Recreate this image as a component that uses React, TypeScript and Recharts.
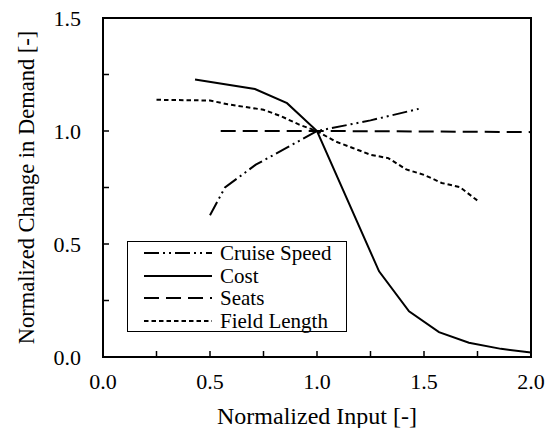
import React from 'react';
import { LineChart, Line, XAxis, YAxis, Legend, ReferenceArea } from 'recharts';

const cruiseX = [0.5, 0.57, 0.714, 0.857, 1.0, 1.25, 1.475];
const cruiseY = [0.627, 0.75, 0.851, 0.925, 1.0, 1.047, 1.098];

const costX = [0.43, 0.71, 0.86, 1.0, 1.29, 1.43, 1.57, 1.71, 1.86, 2.0];
const costY = [1.228, 1.186, 1.123, 1.0, 0.379, 0.202, 0.11, 0.063, 0.036, 0.02];

const seatsX = [0.55, 1.0, 1.5, 2.0];
const seatsY = [1.0, 1.0, 0.998, 0.995];

const fieldX = [0.25, 0.5, 0.583, 0.75, 0.833, 0.917, 1.0, 1.083, 1.167, 1.25, 1.333, 1.417, 1.5, 1.583, 1.667, 1.75];
const fieldY = [1.138, 1.135, 1.118, 1.094, 1.065, 1.028, 1.0, 0.955, 0.925, 0.895, 0.88, 0.83, 0.806, 0.77, 0.752, 0.692];

const xTicks = [0, 0.25, 0.5, 0.75, 1.0, 1.25, 1.5, 1.75, 2.0];
const yTicks = [0, 0.25, 0.5, 0.75, 1.0, 1.25, 1.5];

const seriesNames = ['Cruise Speed', 'Cost', 'Seats', 'Field Length'];

const toPts = (xs: number[], ys: number[]) => xs.map((x, i) => ({ x, y: ys[i] }));

const FONT = 'Liberation Serif';

const dashes: Record<string, string | undefined> = {
  'Cruise Speed': '15 4 2 4 2 4',
  Cost: undefined,
  Seats: '15 7',
  'Field Length': '4.5 3',
};

const isMajor = (v: number) => Math.abs(v * 2 - Math.round(v * 2)) < 1e-6;

const XTick = (props: any) => {
  const { x, y, payload } = props;
  if (!isMajor(payload.value)) return <g />;
  return (
    <text x={x} y={y} textAnchor="middle" dominantBaseline="central" style={{ fontFamily: FONT, fontSize: 22 }} fill="#000">
      {payload.value.toFixed(1)}
    </text>
  );
};

const YTick = (props: any) => {
  const { x, y, payload } = props;
  if (!isMajor(payload.value)) return <g />;
  return (
    <text x={x} y={y} textAnchor="end" dominantBaseline="central" style={{ fontFamily: FONT, fontSize: 22 }} fill="#000">
      {payload.value.toFixed(1)}
    </text>
  );
};

const LegendBox = () => (
  <div
    style={{
      width: 220,
      height: 91,
      boxSizing: 'border-box',
      border: '1.5px solid #000',
      background: '#fff',
      fontFamily: FONT,
      fontSize: 21,
      color: '#000',
    }}
  >
    {seriesNames.map((n) => (
      <div key={n} style={{ height: 22.5, display: 'flex', alignItems: 'center', lineHeight: '22px' }}>
        <svg width={84} height={22} style={{ flex: 'none' }}>
          <line x1={16} x2={85} y1={11} y2={11} stroke="#000" strokeWidth={2} strokeDasharray={dashes[n]} />
        </svg>
        <span style={{ marginLeft: 8, whiteSpace: 'nowrap', fontFamily: FONT }}>{n}</span>
      </div>
    ))}
  </div>
);

export default function App() {
  return (
    <div style={{ margin: -8, width: 555, height: 436, background: '#fff', fontFamily: FONT }}>
      <LineChart width={555} height={436} margin={{ top: 18, right: 24, bottom: 6, left: 18 }} style={{ fontFamily: FONT }}>
        <XAxis
          type="number"
          dataKey="x"
          domain={[0, 2]}
          ticks={xTicks}
          allowDataOverflow
          height={73}
          axisLine={{ stroke: '#000', strokeWidth: 2 }}
          tickLine={{ stroke: '#000', strokeWidth: 1.5 }}
          tickSize={-6}
          tickMargin={30}
          tick={<XTick />}
          interval={0}
          label={{
            value: 'Normalized Input [-]',
            position: 'insideBottom',
            offset: 6,
            style: { fontFamily: FONT, fontSize: 24, fill: '#000' },
          }}
        />
        <YAxis
          type="number"
          dataKey="y"
          domain={[0, 1.5]}
          ticks={yTicks}
          allowDataOverflow
          width={85}
          axisLine={{ stroke: '#000', strokeWidth: 2 }}
          tickLine={{ stroke: '#000', strokeWidth: 1.5 }}
          tickSize={-6}
          tickMargin={28}
          tick={<YTick />}
          interval={0}
          label={{
            value: 'Normalized Change in Demand [-]',
            angle: -90,
            position: 'insideLeft',
            offset: 8,
            style: { fontFamily: FONT, fontSize: 22.5, fill: '#000', textAnchor: 'middle' },
          }}
        />
        <ReferenceArea x1={0} x2={2} y1={0} y2={1.5} fill="none" stroke="#000" strokeWidth={2} ifOverflow="visible" />
        <Legend
          layout="vertical"
          align="center"
          verticalAlign="middle"
          content={<LegendBox />}
          wrapperStyle={{ position: 'absolute', left: 127, top: 241, width: 220, height: 91 }}
        />
        <Line data={toPts(cruiseX, cruiseY)} dataKey="y" name="Cruise Speed" stroke="#000" strokeWidth={2} strokeDasharray={dashes['Cruise Speed']} dot={false} isAnimationActive={false} type="linear" />
        <Line data={toPts(costX, costY)} dataKey="y" name="Cost" stroke="#000" strokeWidth={2} dot={false} isAnimationActive={false} type="linear" />
        <Line data={toPts(seatsX, seatsY)} dataKey="y" name="Seats" stroke="#000" strokeWidth={2} strokeDasharray={dashes.Seats} dot={false} isAnimationActive={false} type="linear" />
        <Line data={toPts(fieldX, fieldY)} dataKey="y" name="Field Length" stroke="#000" strokeWidth={2} strokeDasharray={dashes['Field Length']} dot={false} isAnimationActive={false} type="linear" />
      </LineChart>
    </div>
  );
}
